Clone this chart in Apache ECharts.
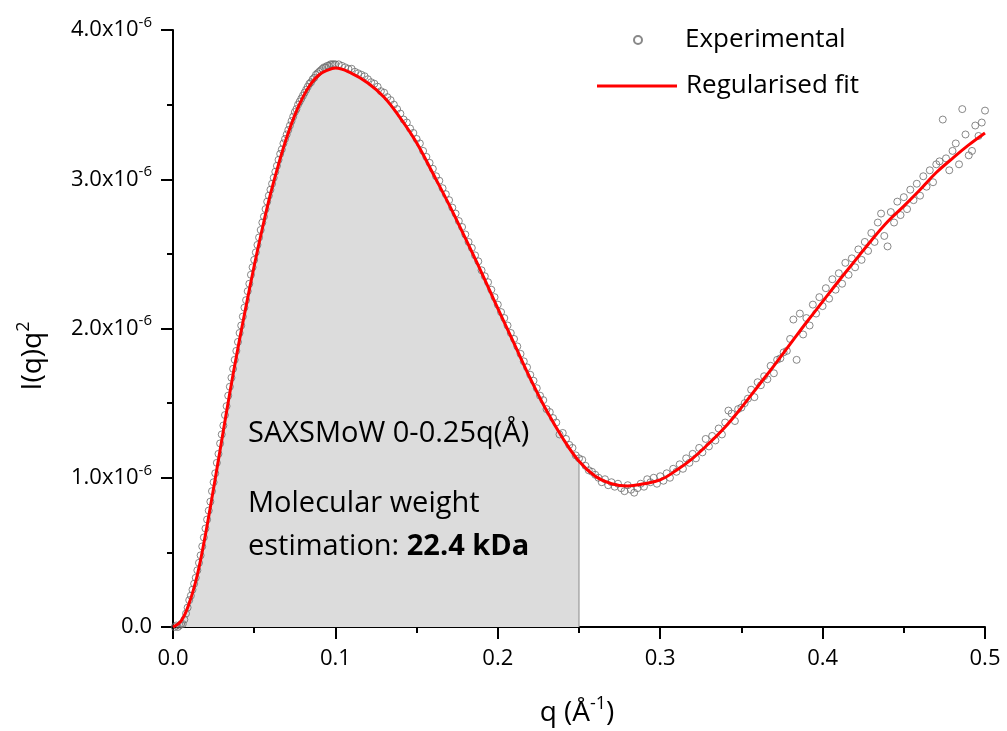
<!DOCTYPE html>
<html>
<head>
<meta charset="utf-8">
<script src="https://cdn.jsdelivr.net/npm/echarts@6/dist/echarts.min.js"></script>
<style>
html,body{margin:0;padding:0;background:#fff;}
#chart{width:1007px;height:731px;}
</style>
</head>
<body>
<div id="chart"></div>
<script>
// values of I(q)q^2 are in units of 1e-6
const xTicks = [0.0, 0.1, 0.2, 0.3, 0.4, 0.5];
const yTicks = [0.0, 1.0, 2.0, 3.0, 4.0];

// Regularised fit
const qFit = [0,0.005,0.01,0.015,0.02,0.025,0.03,0.035,0.04,0.045,
  0.05,0.055,0.06,0.065,0.07,0.075,0.08,0.085,0.09,0.095,0.1,
  0.11,0.12,0.13,0.14,0.15,0.16,0.17,0.18,0.19,0.2,
  0.21,0.22,0.23,0.24,0.25,0.26,0.27,0.28,0.29,0.3,
  0.31,0.32,0.33,0.34,0.35,0.36,0.37,0.38,0.39,0.4,
  0.41,0.42,0.43,0.44,0.45,0.46,0.47,0.48,0.49,0.5];
const iFit = [0,0.04,0.16,0.35,0.62,0.93,1.25,1.57,1.87,2.15,
  2.42,2.67,2.90,3.10,3.28,3.43,3.55,3.64,3.70,3.73,3.745,
  3.71,3.645,3.55,3.41,3.245,3.04,2.83,2.605,2.375,2.135,
  1.90,1.665,1.45,1.265,1.11,1.01,0.96,0.945,0.96,0.985,
  1.05,1.13,1.23,1.34,1.47,1.61,1.75,1.895,2.04,2.18,
  2.32,2.455,2.59,2.715,2.82,2.93,3.045,3.14,3.23,3.31];

// Experimental points (read from the open circles)
const qExpLow = [
  0.001,0.002,0.003,0.004,0.005,0.006,0.007,0.008,0.009,0.010,
  0.011,0.012,0.013,0.014,0.015,0.016,0.017,0.018,0.019,0.020,
  0.021,0.022,0.023,0.024,0.025,0.026,0.027,0.028,0.029,0.030,
  0.031,0.032,0.033,0.034,0.035,0.036,0.037,0.038,0.039,0.040,
  0.041,0.042,0.043,0.044,0.045,0.046,0.047,0.048,0.049,0.050,
  0.051,0.052,0.053,0.054,0.055,0.056,0.057,0.058,0.059,0.060,
  0.061,0.062,0.063,0.064,0.065,0.066,0.067,0.068,0.069,0.070,
  0.071,0.072,0.073,0.074,0.075,0.076,0.077,0.078,0.079,0.080,
  0.081,0.082,0.083,0.084,0.085,0.086,0.087,0.088,0.089,0.090,
  0.091,0.092,0.093,0.094,0.095,0.096,0.097,0.098,0.099,0.100];
const iExpLow = [
  0.00,0.01,0.00,0.01,0.02,0.02,0.05,0.09,0.13,0.18,
  0.21,0.25,0.29,0.33,0.38,0.43,0.48,0.54,0.60,0.66,
  0.72,0.78,0.84,0.91,0.97,1.03,1.10,1.16,1.23,1.29,
  1.35,1.42,1.48,1.55,1.61,1.67,1.73,1.79,1.85,1.91,
  1.97,2.02,2.08,2.14,2.19,2.25,2.30,2.36,2.41,2.46,
  2.51,2.56,2.61,2.66,2.71,2.75,2.80,2.85,2.89,2.93,
  2.97,3.01,3.05,3.09,3.13,3.17,3.20,3.24,3.27,3.30,
  3.33,3.36,3.39,3.42,3.45,3.47,3.50,3.52,3.54,3.56,
  3.58,3.60,3.62,3.64,3.65,3.67,3.68,3.70,3.71,3.72,
  3.73,3.74,3.75,3.75,3.76,3.76,3.77,3.77,3.77,3.77];
const qExpHigh = [
  0.102,0.104,0.106,0.108,0.110,0.112,0.114,0.116,0.118,0.120,
  0.122,0.124,0.126,0.128,0.130,0.132,0.134,0.136,0.138,0.140,
  0.142,0.144,0.146,0.148,0.150,0.152,0.154,0.156,0.158,0.160,
  0.162,0.164,0.166,0.168,0.170,0.172,0.174,0.176,0.178,0.180,
  0.182,0.184,0.186,0.188,0.190,0.192,0.194,0.196,0.198,0.200,
  0.202,0.204,0.206,0.208,0.210,0.212,0.214,0.216,0.218,0.220,
  0.222,0.224,0.226,0.228,0.230,0.232,0.234,0.236,0.238,0.240,
  0.242,0.244,0.246,0.248,0.250,0.252,0.254,0.256,0.258,0.260,
  0.262,0.264,0.266,0.268,0.270,0.272,0.274,0.276,0.278,0.280,
  0.282,0.284,0.286,0.288,0.290,0.292,0.294,0.296,0.298,0.300,
  0.302,0.304,0.306,0.308,0.310,0.312,0.314,0.316,0.318,0.320,
  0.322,0.324,0.326,0.328,0.330,0.332,0.334,0.336,0.338,0.340,
  0.342,0.344,0.346,0.348,0.350,0.352,0.354,0.356,0.358,0.360,
  0.362,0.364,0.366,0.368,0.370,0.372,0.374,0.376,0.378,0.380,
  0.382,0.384,0.386,0.388,0.390,0.392,0.394,0.396,0.398,0.400,
  0.402,0.404,0.406,0.408,0.410,0.412,0.414,0.416,0.418,0.420,
  0.422,0.424,0.426,0.428,0.430,0.432,0.434,0.436,0.438,0.440,
  0.442,0.444,0.446,0.448,0.450,0.452,0.454,0.456,0.458,0.460,
  0.462,0.464,0.466,0.468,0.470,0.472,0.474,0.476,0.478,0.480,
  0.482,0.484,0.486,0.488,0.490,0.492,0.494,0.496,0.498,0.500];
const iExpHigh = [
  3.77,3.76,3.75,3.74,3.74,3.72,3.71,3.70,3.69,3.67,
  3.65,3.64,3.62,3.59,3.58,3.55,3.53,3.50,3.47,3.44,
  3.40,3.38,3.34,3.31,3.27,3.24,3.19,3.15,3.11,3.07,
  3.02,2.99,2.94,2.90,2.86,2.81,2.77,2.72,2.68,2.63,
  2.58,2.54,2.49,2.45,2.39,2.35,2.31,2.26,2.21,2.16,
  2.11,2.07,2.02,1.97,1.93,1.88,1.83,1.78,1.74,1.69,
  1.65,1.60,1.55,1.52,1.46,1.44,1.40,1.37,1.29,1.30,
  1.26,1.22,1.20,1.15,1.13,1.12,1.08,1.05,1.04,1.02,
  1.00,0.97,0.99,0.95,0.97,0.94,0.96,0.93,0.91,0.95,
  0.92,0.90,0.93,0.96,0.94,0.99,0.97,1.00,0.96,1.01,
  0.98,1.03,1.00,1.06,1.04,1.09,1.06,1.13,1.10,1.16,
  1.13,1.20,1.17,1.26,1.21,1.28,1.25,1.33,1.29,1.37,
  1.45,1.43,1.38,1.46,1.47,1.50,1.53,1.59,1.54,1.64,
  1.62,1.68,1.66,1.75,1.70,1.79,1.80,1.84,1.85,1.93,
  2.06,1.79,2.10,1.96,2.07,2.02,2.16,2.10,2.21,2.15,
  2.27,2.20,2.33,2.26,2.37,2.30,2.44,2.36,2.47,2.41,
  2.53,2.46,2.58,2.52,2.64,2.58,2.71,2.77,2.62,2.55,
  2.78,2.71,2.85,2.76,2.88,2.80,2.93,2.86,2.97,2.89,
  3.02,2.95,3.06,2.98,3.10,3.12,3.40,3.14,3.06,3.19,
  3.24,3.10,3.47,3.30,3.16,3.19,3.36,3.29,3.38,3.46];

const shadeEnd = 0.25;
const legendNames = ['Experimental', 'Regularised fit'];
const noteLine1 = 'SAXSMoW 0-0.25q(Å)';
const noteLine2 = 'Molecular weight';
const noteLine3a = 'estimation: ';
const noteLine3b = '22.4 kDa';

const FONT = 'Open Sans';
const expData = qExpLow.map((q, i) => [q, iExpLow[i]])
  .concat(qExpHigh.map((q, i) => [q, iExpHigh[i]]));
const fitData = qFit.map((q, i) => [q, iFit[i]]);
const shadeData = fitData.filter(p => p[0] <= shadeEnd + 1e-9);
const shadeTop = iFit[qFit.findIndex(q => Math.abs(q - shadeEnd) < 1e-9)];

const chart = echarts.init(document.getElementById('chart'), null, {renderer: 'canvas'});
chart.setOption({
  backgroundColor: '#fff',
  animation: false,
  grid: {left: 173, right: 22, top: 30, bottom: 104, containLabel: false},
  xAxis: {
    type: 'value', min: xTicks[0], max: xTicks[xTicks.length - 1], interval: 0.1,
    axisLine: {show: true, onZero: false, lineStyle: {color: '#000', width: 2}},
    axisTick: {show: true, inside: false, length: 12, lineStyle: {color: '#000', width: 2}},
    minorTick: {show: true, splitNumber: 2, length: 6, lineStyle: {color: '#000', width: 2}},
    splitLine: {show: false},
    axisLabel: {margin: 21, color: '#000', fontFamily: FONT, fontSize: 22,
      formatter: v => v.toFixed(1)}
  },
  yAxis: {
    type: 'value', min: yTicks[0], max: yTicks[yTicks.length - 1], interval: 1,
    axisLine: {show: true, onZero: false, lineStyle: {color: '#000', width: 2}},
    axisTick: {show: true, inside: false, length: 12, lineStyle: {color: '#000', width: 2}},
    minorTick: {show: true, splitNumber: 2, length: 6, lineStyle: {color: '#000', width: 2}},
    splitLine: {show: false},
    axisLabel: {
      margin: 21, color: '#000',
      formatter: v => v === 0 ? '{a|0.0}' : '{a|' + v.toFixed(1) + 'x10}{s|-6}',
      rich: {
        a: {fontFamily: FONT, fontSize: 22, color: '#000', lineHeight: 30},
        s: {fontFamily: FONT, fontSize: 15, color: '#000', lineHeight: 30, verticalAlign: 'top'}
      }
    }
  },
  legend: [
    {
      orient: 'vertical', left: 628, top: 22, itemWidth: 80, itemHeight: 8,
      textStyle: {fontFamily: FONT, fontSize: 26, color: '#000', padding: [0, 0, 0, 2]},
      data: [{name: legendNames[0], icon: 'circle'}]
    },
    {
      orient: 'vertical', left: 592, top: 68, itemWidth: 80, itemHeight: 3,
      textStyle: {fontFamily: FONT, fontSize: 26, color: '#000', padding: [0, 0, 0, 4]},
      data: [{name: legendNames[1], icon: 'rect'}]
    }
  ],
  series: [
    {
      name: 'shade', type: 'line', data: shadeData, smooth: 0.4, symbol: 'none',
      lineStyle: {width: 0, opacity: 0}, areaStyle: {color: '#dcdcdc', opacity: 1, origin: 'start'},
      z: 1, silent: true
    },
    {
      name: 'shadeEdge', type: 'line', data: [[shadeEnd, 0], [shadeEnd, shadeTop]], symbol: 'none',
      lineStyle: {color: '#8a8a8a', width: 1}, z: 1, silent: true
    },
    {
      name: legendNames[0], type: 'scatter', data: expData, symbol: 'circle', symbolSize: 7,
      itemStyle: {color: 'rgba(255,255,255,0)', borderColor: '#6a6a6a', borderWidth: 1},
      z: 2
    },
    {
      name: legendNames[1], type: 'line', data: fitData, smooth: 0.4, symbol: 'none',
      lineStyle: {color: '#ff0000', width: 3}, itemStyle: {color: '#ff0000'}, z: 3
    }
  ],
  graphic: [
    {type: 'text', x: 33, y: 356, rotation: Math.PI / 2, z: 10,
      style: {text: '{a|I(q)q}{s|2}', align: 'center', verticalAlign: 'middle',
        rich: {a: {fontFamily: FONT, fontSize: 28, fill: '#000', lineHeight: 36},
               s: {fontFamily: FONT, fontSize: 18, fill: '#000', lineHeight: 36, verticalAlign: 'top'}}}},
    {type: 'text', x: 577, y: 713, z: 10,
      style: {text: '{a|q (Å}{s|-1}{a|)}', align: 'center', verticalAlign: 'middle',
        rich: {a: {fontFamily: FONT, fontSize: 28, fill: '#000', lineHeight: 36},
               s: {fontFamily: FONT, fontSize: 18, fill: '#000', lineHeight: 36, verticalAlign: 'top'}}}},
    {type: 'text', x: 248, y: 434, z: 10,
      style: {text: noteLine1, fontFamily: FONT, fontSize: 29, fill: '#000', verticalAlign: 'middle'}},
    {type: 'text', x: 248, y: 504, z: 10,
      style: {text: noteLine2, fontFamily: FONT, fontSize: 29, fill: '#000', verticalAlign: 'middle'}},
    {type: 'text', x: 248, y: 547, z: 10,
      style: {text: '{r|' + noteLine3a + '}{b|' + noteLine3b + '}', verticalAlign: 'middle',
        rich: {r: {fontFamily: FONT, fontSize: 29, fill: '#000'},
               b: {fontFamily: FONT, fontSize: 29, fontWeight: 'bold', fill: '#000'}}}}
  ]
});
</script>
</body>
</html>
